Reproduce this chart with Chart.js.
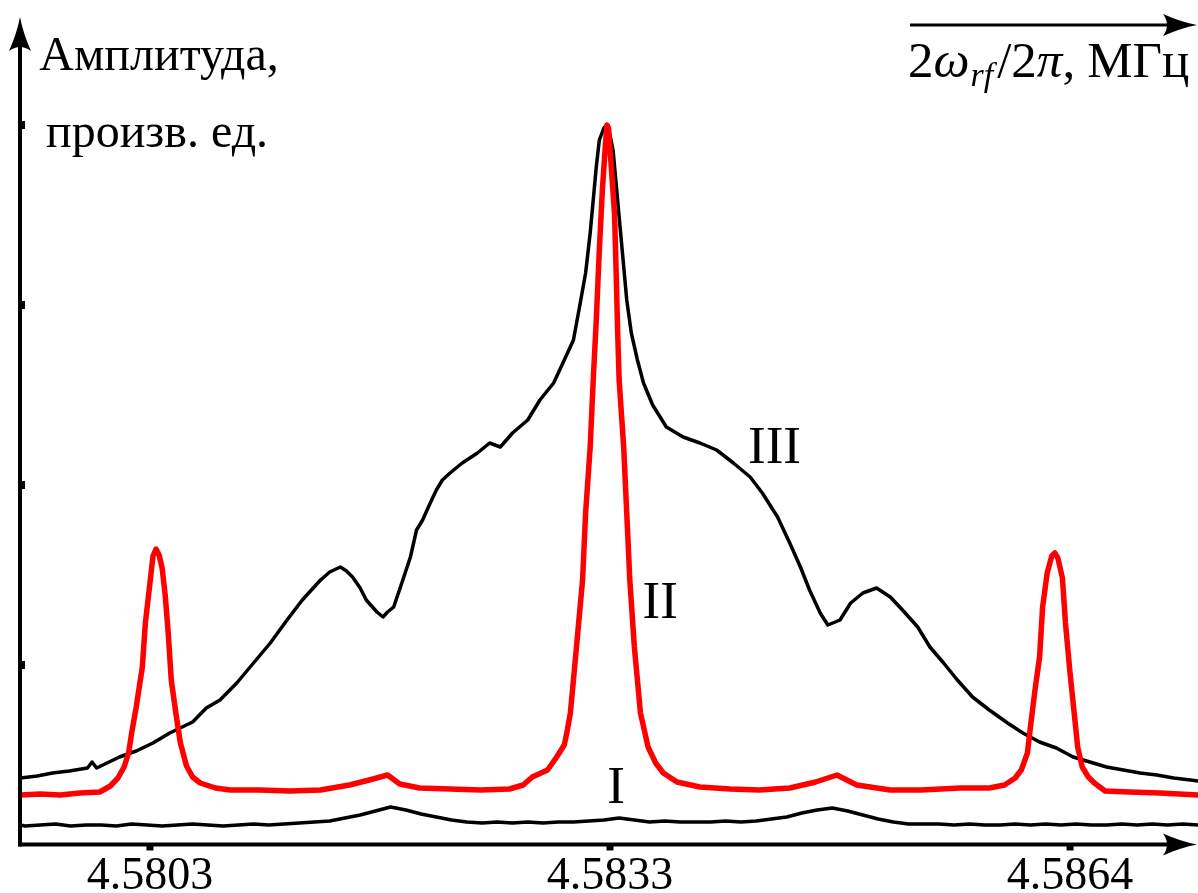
<!DOCTYPE html>
<html><head><meta charset="utf-8">
<script src="https://cdn.jsdelivr.net/npm/chart.js@4/dist/chart.umd.min.js"></script>
<style>html,body{margin:0;padding:0;background:#fff;overflow:hidden}canvas{display:block}</style>
</head><body>
<canvas id="c" width="1198" height="893"></canvas>
<script>
// x: 2*omega_rf/2pi, MHz ; y: amplitude, arbitrary units
const xTickValues = [4.58032, 4.58334, 4.58636];
const xTickLabels = ['4.5803', '4.5833', '4.5864'];
const yTickValues = [180, 360, 540, 720];

const freqI = [4.57947,4.5795,4.5796,4.5797,4.5798,4.5799,
4.5800,4.5801,4.5802,4.5803,4.5804,4.5805,4.5806,4.5807,4.5808,4.5809,
4.5810,4.5811,4.5812,4.5813,4.5814,4.5815,4.5816,4.5817,4.5818,4.5819,
4.5820,4.5821,4.5822,4.5823,4.5824,4.5825,4.5826,4.5827,4.5828,4.5829,
4.5830,4.5831,4.5832,4.5833,4.5834,4.5835,4.5836,4.5837,4.5838,4.5839,
4.5840,4.5841,4.5842,4.5843,4.5844,4.5845,4.5846,4.5847,4.5848,4.5849,
4.5850,4.5851,4.5852,4.5853,4.5854,4.5855,4.5856,4.5857,4.5858,4.5859,
4.5860,4.5861,4.5862,4.5863,4.5864,4.5865,4.5866,4.5867,4.5868,4.5869,
4.5870,4.5871,4.5872];
const ampI = [20,19,20,21,19,20,20,19,21,20,19,20,21,20,19,20,21,20,21,22,
23,24,27,30,34,38,35,31,28,25,23,
22,23,22,23,22,23,23,24,25,27,25,23,24,23,23,23,24,23,24,26,28,32,35,37,34,30,26,23,21,21,
21,20,21,20,20,21,20,21,20,21,20,20,21,20,21,20,21,20];

const freqII = [4.57947,4.57960,4.57973,4.57986,4.57999,4.58006,4.58011,4.58015,4.58018,4.58020,
4.58023,4.58027,4.58029,4.58032,4.58034,4.58036,4.58038,4.58040,4.58042,4.58044,
4.58046,4.58049,4.58052,4.58056,4.58060,4.58065,4.58075,4.58085,4.58104,4.58124,
4.58144,4.58163,4.58176,4.58188,4.58196,4.58209,4.58229,4.58249,4.58268,4.58277,
4.58283,4.58293,4.58299,4.58304,4.58306,4.58308,4.58310,4.58312,4.58316,4.58318,
4.58321,4.58323,4.58325,4.58327,4.58329,4.58331,4.58332,4.58333,4.58335,4.58337,
4.58338,4.58339,4.58340,4.58343,4.58345,4.58347,4.58350,4.58352,4.58354,4.58359,
4.58364,4.58369,4.58378,4.58393,4.58413,4.58432,4.58452,4.58469,4.58483,4.58496,
4.58518,4.58538,4.58564,4.58583,4.58593,4.58600,4.58604,4.58608,4.58610,4.58613,
4.58616,4.58618,4.58621,4.58624,4.58626,4.58628,4.58631,4.58633,4.58636,4.58639,
4.58641,4.58644,4.58648,4.58652,4.58659,4.58675,4.58695,4.58720];
const ampII = [50,51,50,52,53,59,67,78,92,112,
138,178,222,262,289,296,290,277,250,212,
165,132,102,79,68,62,57,55,55,54,
55,60,65,70,61,57,56,55,56,60,
68,75,88,100,115,132,165,198,265,332,
398,465,525,595,655,700,720,717,675,630,
575,515,465,398,332,265,198,165,132,98,
82,72,63,58,56,55,57,63,70,60,
55,55,57,57,60,67,75,92,118,155,
188,238,272,289,292,287,267,222,172,128,
98,78,68,62,54,53,52,50];

const freqIII = [4.57947,4.57958,4.57968,4.57979,4.57991,4.57994,4.57997,4.58012,4.58023,4.58034,
4.58045,4.58060,4.58069,4.58078,4.58089,4.58100,4.58111,4.58122,4.58132,4.58144,
4.58150,4.58157,4.58161,4.58165,4.58170,4.58174,4.58181,4.58185,4.58188,4.58192,
4.58198,4.58203,4.58207,4.58211,4.58216,4.58220,4.58224,4.58229,4.58237,4.58247,
4.58255,4.58262,4.58270,4.58280,4.58288,4.58297,4.58304,4.58310,4.58314,4.58318,
4.58321,4.58323,4.58325,4.58327,4.58330,4.58332,4.58334,4.58336,4.58339,4.58342,
4.58345,4.58348,4.58352,4.58356,4.58362,4.58371,4.58382,4.58393,4.58404,4.58415,
4.58426,4.58434,4.58444,4.58452,4.58459,4.58465,4.58472,4.58477,4.58485,4.58492,
4.58500,4.58509,4.58518,4.58526,4.58536,4.58544,4.58553,4.58562,4.58572,4.58583,
4.58595,4.58605,4.58616,4.58627,4.58638,4.58649,4.58660,4.58671,4.58682,4.58693,
4.58704,4.58715,4.58720];
const ampIII = [67,69,72,74,77,83,77,88,94,102,
112,123,137,145,162,182,202,225,245,265,
273,278,274,268,257,245,233,228,233,238,
265,288,315,325,342,355,365,372,382,392,
402,398,412,425,445,462,485,505,538,572,
612,645,678,705,717,720,710,695,645,595,
545,512,485,462,440,418,408,402,395,382,
368,352,328,302,278,255,232,220,225,242,
252,257,248,235,218,198,182,165,148,135,
122,112,103,97,88,83,78,75,72,70,
67,65,64];

const seriesLabels = ['I', 'II', 'III'];
const seriesLabelPos = [[4.58338, 42], [4.58367, 227], [4.58442, 382]];

const pts = (f, a) => f.map((v, i) => ({x: v, y: a[i]}));
const SERIF = '"Liberation Serif", "DejaVu Serif", serif';

function arrowHead(ctx, tx, ty, dir) {
  ctx.save();
  ctx.translate(tx, ty);
  if (dir === 'up') ctx.rotate(-Math.PI / 2);
  ctx.beginPath();
  ctx.moveTo(0, 0);
  ctx.quadraticCurveTo(-16, -3, -34, -11);
  ctx.quadraticCurveTo(-26, 0, -34, 11);
  ctx.quadraticCurveTo(-16, 3, 0, 0);
  ctx.closePath();
  ctx.fill();
  ctx.restore();
}

const axesPlugin = {
  id: 'axesArrows',
  afterDatasetsDraw(chart) {
    const ctx = chart.ctx, xs = chart.scales.x, ys = chart.scales.y, ca = chart.chartArea;
    const x0 = ca.left, y0 = ca.bottom - 0.5;
    ctx.save();
    ctx.fillStyle = '#000'; ctx.strokeStyle = '#000';
    ctx.lineWidth = 4; ctx.lineCap = 'butt';
    ctx.beginPath(); ctx.moveTo(x0, y0 + 2); ctx.lineTo(x0, 40); ctx.stroke();
    arrowHead(ctx, x0, 17, 'up');
    ctx.beginPath(); ctx.moveTo(x0 - 2, y0); ctx.lineTo(1175, y0); ctx.stroke();
    arrowHead(ctx, 1197, y0, 'right');
    yTickValues.forEach(v => { const p = ys.getPixelForValue(v); ctx.fillRect(x0, p - 4, 5, 8); });
    xTickValues.forEach(v => { const p = xs.getPixelForValue(v); ctx.fillRect(p - 3.5, y0, 7, 6); });
    ctx.lineWidth = 3;
    ctx.beginPath(); ctx.moveTo(910, 25); ctx.lineTo(1175, 25); ctx.stroke();
    arrowHead(ctx, 1197, 25, 'right');
    ctx.restore();
  },
  afterDraw(chart) {
    const ctx = chart.ctx, xs = chart.scales.x, ys = chart.scales.y;
    ctx.save();
    ctx.fillStyle = '#000';
    ctx.textBaseline = 'alphabetic';
    ctx.textAlign = 'center';
    ctx.font = '48px ' + SERIF;
    ctx.fillText('Амплитуда,', 159, 70);
    ctx.fillText('произв. ед.', 157, 147);
    ctx.font = '53px ' + SERIF;
    seriesLabels.forEach((t, i) => {
      ctx.fillText(t, xs.getPixelForValue(seriesLabelPos[i][0]), ys.getPixelForValue(seriesLabelPos[i][1]));
    });
    ctx.textAlign = 'left';
    const by = 77;
    const parts = [
      ['2', '51px ' + SERIF, 0, 0],
      ['ω', 'italic 51px ' + SERIF, 0, 1],
      ['rf', 'italic 34px ' + SERIF, 9, 4],
      ['/2', '51px ' + SERIF, 0, 0],
      ['π', 'italic 51px ' + SERIF, 0, 0],
      [',', '51px ' + SERIF, 0, 12],
      ['МГц', '51px ' + SERIF, 0, 0]
    ];
    let x = 908;
    parts.forEach(([t, f, dy, gap]) => {
      ctx.font = f;
      ctx.fillText(t, x, by + dy);
      x += ctx.measureText(t).width + gap;
    });
    ctx.restore();
  }
};

new Chart(document.getElementById('c'), {
  type: 'line',
  data: {
    datasets: [
      {label: 'II', data: pts(freqII, ampII), borderColor: '#ff0000', borderWidth: 5.5, order: 0},
      {label: 'III', data: pts(freqIII, ampIII), borderColor: '#000000', borderWidth: 3.5, order: 1},
      {label: 'I', data: pts(freqI, ampI), borderColor: '#000000', borderWidth: 3.5, order: 2}
    ]
  },
  options: {
    responsive: false,
    animation: false,
    layout: {padding: {left: 20, right: 0, top: 0, bottom: 0}},
    elements: {point: {radius: 0}, line: {tension: 0, borderJoinStyle: 'round', borderCapStyle: 'round'}},
    plugins: {legend: {display: false}, tooltip: {enabled: false}, title: {display: false}},
    scales: {
      x: {
        type: 'linear', position: 'bottom',
        min: 4.579467, max: 4.5872,
        grid: {display: false, drawTicks: false},
        border: {display: false},
        afterBuildTicks: (s) => { s.ticks = xTickValues.map(v => ({value: v})); },
        afterFit: (s) => { s.height = 48; },
        ticks: {
          autoSkip: false, maxRotation: 0, minRotation: 0, padding: 4, color: '#000',
          font: {family: SERIF, size: 46},
          callback: (v, i) => xTickLabels[i]
        }
      },
      y: {type: 'linear', min: 0, max: 845, display: false}
    }
  },
  plugins: [axesPlugin]
});
</script>
</body></html>
